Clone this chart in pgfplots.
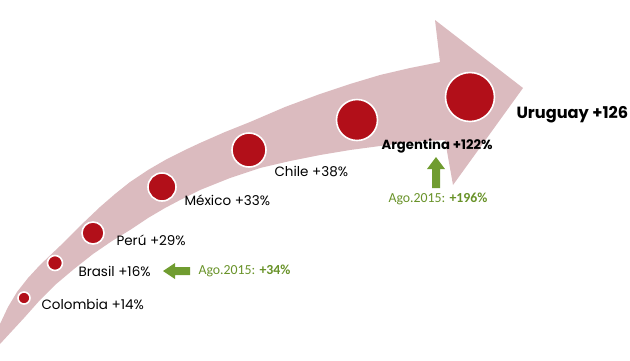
\documentclass[border=0pt]{standalone}
\usepackage{pgfplots}
\pgfplotsset{compat=1.18}
\usepackage{fontspec}
\setmainfont{Poppins}
\newfontfamily\calib{Carlito}
\definecolor{arrowpink}{RGB}{219,187,191}
\definecolor{dotred}{RGB}{178,15,25}
\definecolor{grn}{RGB}{112,156,48}
\definecolor{grntxt}{RGB}{104,146,40}
\pgfplotstableread{
x y r
24 298 6
55 263 7.5
93 233 11
162 187 14
249 150 17
357 120 20.5
470 97 24.5
}\dots
\begin{document}
\begin{tikzpicture}
\begin{axis}[
  width=630pt, height=360pt, scale only axis,
  xmin=0, xmax=630, ymin=0, ymax=360, y dir=reverse,
  axis lines=none, clip=true,
]
% arrow body
\addplot[fill=arrowpink, draw=none] coordinates {
(0,324) (8,307) (17,292) (28,278) (40,265) (60,246) (80,226) (100,207) (115,194) (130,182) (148,170) (167,159) (185,150) (200,143)
(225,132) (250,122) (285,107) (320,94) (350,84) (380,75) (410,68) (440,62) (435,20) (523,88) (453,185) (445,140)
(410,142) (380,146) (350,150) (320,155) (290,161) (260,168) (230,178) (200,190) (182,199) (165,208) (148,218) (130,230) (112,241) (93,254)
(74,269) (55,285) (40,300) (24,318) (12,331) (0,344) (0,324)} -- cycle;
% circles
\addplot[only marks, mark=*, mark options={fill=dotred, draw=white, line width=1.6pt},
  visualization depends on={\thisrow{r} \as \rr},
  scatter, scatter src=x,
  scatter/use mapped color={fill=dotred, draw=white},
  scatter/@pre marker code/.append style={/tikz/mark size=\rr}]
  table[x=x, y=y] {\dots};
% labels
\node[anchor=west, font=\fontsize{13.5}{15}\selectfont] at (38,304) {Colombia +14\%};
\node[anchor=west, font=\fontsize{13.5}{15}\selectfont] at (75,271) {Brasil +16\%};
\node[anchor=west, font=\fontsize{13.5}{15}\selectfont] at (113,240) {Perú +29\%};
\node[anchor=west, font=\fontsize{13.5}{15}\selectfont] at (181,200) {México +33\%};
\node[anchor=west, font=\fontsize{13.5}{15}\selectfont] at (271,171) {Chile +38\%};
\node[anchor=west, font=\bfseries\fontsize{13.2}{15}\selectfont] at (378,146) {Argentina +122\%};
\node[anchor=west, font=\bfseries\fontsize{16.2}{18}\selectfont] at (513,115) {Uruguay +126};
\node[anchor=west, text=grntxt, font=\calib\fontsize{13.8}{15}\selectfont] at (195,271) {Ago.2015: \textbf{+34\%}};
\node[anchor=west, text=grntxt, font=\calib\fontsize{13.8}{15}\selectfont] at (385,199) {Ago.2015: \textbf{+196\%}};
% green block arrows
\fill[grn] (163,271) -- (175,263) -- (175,267) -- (190,267) -- (190,275) -- (175,275) -- (175,279) -- cycle;
\fill[grn] (436,157) -- (445,169) -- (440,169) -- (440,188) -- (432,188) -- (432,169) -- (427,169) -- cycle;
\end{axis}
\path (current axis.south west) rectangle (current axis.north east);
\end{tikzpicture}
\end{document}
